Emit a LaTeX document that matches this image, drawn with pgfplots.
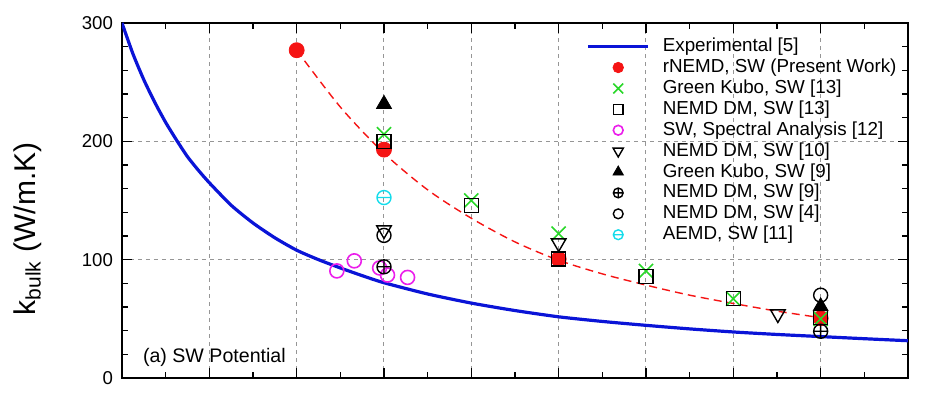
\documentclass[border=0pt]{standalone}
\usepackage{graphicx}
\usepackage{fontspec}
\setmainfont{Liberation Sans}
\usepackage{pgfplots}
\pgfplotsset{compat=1.18}

\definecolor{expblue}{RGB}{10,20,215}
\definecolor{rred}{RGB}{245,20,20}
\definecolor{gkgreen}{RGB}{40,215,40}
\definecolor{specmag}{RGB}{235,30,235}
\definecolor{aemdcyan}{RGB}{20,220,235}
\definecolor{gridgray}{RGB}{150,150,150}

\pgfdeclareplotmark{ominus}{%
  \pgfpathcircle{\pgfpointorigin}{\pgfplotmarksize}%
  \pgfpathmoveto{\pgfqpoint{-\pgfplotmarksize}{0pt}}%
  \pgfpathlineto{\pgfqpoint{\pgfplotmarksize}{0pt}}%
  \pgfusepathqstroke}

\begin{document}
\begin{tikzpicture}
\path[use as bounding box] (-61pt,-9pt) rectangle (413pt,189pt);
\begin{axis}[
  at={(0,0)}, anchor=south west,
  scale only axis, width=393pt, height=177.5pt,
  xmin=200, xmax=1100, ymin=0, ymax=300,
  xtick={200,300,...,1100}, minor x tick num=1,
  ytick={0,100,200,300}, minor y tick num=4,
  xticklabels={},
  tick pos=both, tick align=inside,
  major tick length=5pt, minor tick length=3pt,
  every tick/.style={black, line width=0.8pt},
  axis line style={line width=1pt},
  grid=major,
  major grid style={gridgray, line width=0.5pt, dash pattern=on 2pt off 2pt},
  /pgf/number format/assume math mode=true,
  yticklabel style={font=\fontsize{9.3}{11}\selectfont, xshift=-1pt},
  ylabel={k\textsubscript{bulk} (W/m.K)},
  ylabel style={at={(axis description cs:-0.12,0.42)}, anchor=center, font=\fontsize{15}{17}\selectfont},
  legend cell align=left,
  legend image code/.code={\draw[mark repeat=2,mark phase=2,#1] plot coordinates {(0pt,0pt) (15pt,0pt) (30pt,0pt)};},
  legend image post style={every mark/.append style={scale=0.7}},
  legend style={at={(axis description cs:0.583,0.974)}, anchor=north west, draw=none, fill=none,
    font=\fontsize{9.4}{11}\selectfont, row sep=0.45pt,
    nodes={inner sep=0.5pt, text height=7pt, text depth=2pt},
    /tikz/every odd column/.style={column sep=6pt}},
]
% Experimental [5]
\addplot[expblue, line width=1.6pt, smooth, tension=0.4, no marks] coordinates {
 (200,300) (212.5,274) (225,252) (237.5,233) (250,216) (262.5,201) (275,187) (287.5,175.5)
 (300,165) (325,146) (350,131) (375,118.5) (400,108) (425,100) (450,93) (475,86.5) (500,80.5)
 (550,71) (600,63.3) (650,57) (700,51.7) (750,47.8) (800,44.5) (850,41.5) (900,38.9)
 (950,36.8) (1000,35) (1050,33.2) (1100,31.5)};
\addlegendentry{Experimental [5]}
% fitted red dashed line
\addplot[rred, line width=0.7pt, dash pattern=on 4pt off 2.6pt, smooth, no marks, forget plot] coordinates {
 (400,277) (450,229) (500,190) (550,159) (600,135) (650,115) (700,99.5) (750,88) (800,78.5) (850,70) (900,63) (950,56.5) (1000,51)};
% rNEMD present work
\addplot[only marks, mark=*, mark size=3.75pt, color=rred, mark options={fill=rred, draw=rred}] coordinates {
 (400,277) (500,193) (700,100.5) (1000,50.5)};
\addlegendentry{rNEMD, SW (Present Work)}
% Green Kubo [13]
\addplot[only marks, mark=x, mark size=5pt, color=gkgreen, line width=0.8pt] coordinates {
 (500,206) (600,150) (700,122) (800,90.5) (900,67) (1000,50)};
\addlegendentry{Green Kubo, SW [13]}
% NEMD DM [13]
\addplot[only marks, mark=square, mark size=3.5pt, color=black, line width=0.7pt] coordinates {
 (500,200) (600,146) (700,100.5) (800,86) (900,67) (1000,51)};
\addlegendentry{NEMD DM, SW [13]}
% Spectral analysis [12]
\addplot[only marks, mark=o, mark size=3.5pt, color=specmag, line width=0.8pt] coordinates {
 (446,90.5) (466,99) (495,93) (504,87) (527,85)};
\addlegendentry{SW, Spectral Analysis [12]}
% NEMD DM [10]
\addplot[only marks, mark=triangle, mark size=4.2pt, color=black, line width=0.7pt, mark options={rotate=180}] coordinates {
 (500,125) (700,114) (951,54)};
\addlegendentry{NEMD DM, SW [10]}
% Green Kubo [9]
\addplot[only marks, mark=triangle*, mark size=4.3pt, color=black, mark options={fill=black}] coordinates {
 (500,231.5) (1000,60.5)};
\addlegendentry{Green Kubo, SW [9]}
% NEMD DM [9]
\addplot[only marks, mark=oplus, mark size=3.5pt, color=black, line width=0.7pt] coordinates {
 (500,94) (1000,39.5)};
\addlegendentry{NEMD DM, SW [9]}
% NEMD DM [4]
\addplot[only marks, mark=o, mark size=3.5pt, color=black, line width=0.7pt] coordinates {
 (500,120.5) (1000,70)};
\addlegendentry{NEMD DM, SW [4]}
% AEMD [11]
\addplot[only marks, mark=ominus, mark size=3.5pt, color=aemdcyan, line width=0.7pt] coordinates {
 (500,152.5)};
\addlegendentry{AEMD, SW [11]}
\node[anchor=base west, font=\fontsize{9.8}{11}\selectfont] at (axis cs:216,12.7) {(a) SW Potential};
\end{axis}
\end{tikzpicture}
\end{document}
